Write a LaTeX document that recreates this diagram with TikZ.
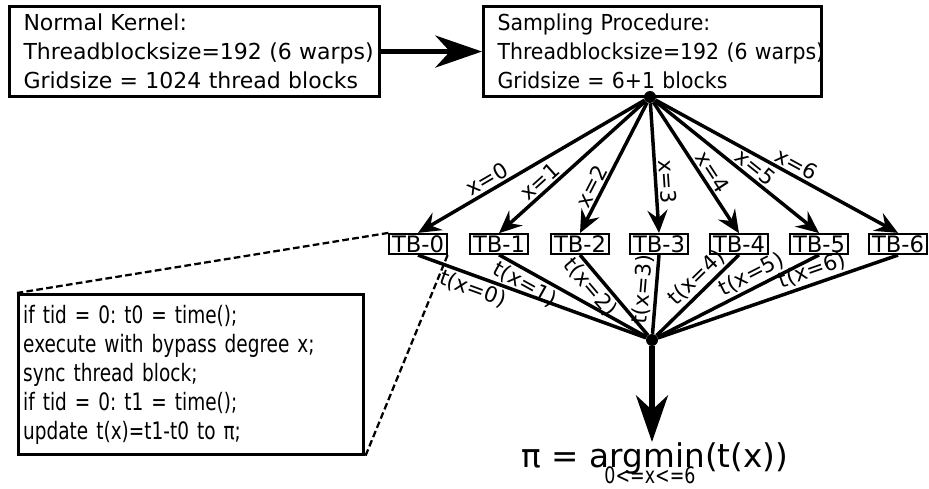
\documentclass[tikz,border=0pt]{standalone}
\usepackage{fontspec}
\setmainfont{DejaVu Sans}
\newfontfamily\narrowfont{DejaVu Sans}[FakeStretch=0.77]
\newfontfamily\squeezefont{DejaVu Sans}[FakeStretch=0.93]
\usetikzlibrary{arrows.meta,positioning}
\frenchspacing

\tikzset{
  infobox/.style={
    draw,
    line width=2.3pt,
    anchor=north west,
    align=left,
    inner xsep=10.5pt,
    minimum height=67.5pt,
    font=\fontsize{16.5pt}{21.75pt}\selectfont
  },
  tb/.style={
    draw,
    line width=1.4pt,
    inner xsep=2pt,
    inner ysep=1.2pt,
    font=\fontsize{17pt}{17pt}\selectfont
  },
  dotnode/.style={
    shape=circle,
    fill,
    inner sep=0pt,
    minimum size=9pt
  },
  codebox/.style={
    draw,
    line width=2.3pt,
    anchor=north west,
    align=left,
    inner xsep=3.5pt,
    text width=252pt,
    minimum height=120pt,
    font=\narrowfont\fontsize{18pt}{21.75pt}\selectfont
  },
}
\tikzset{
  fan/.style={
    line width=2.6pt,
    -{Stealth[length=17pt,width=15pt,inset=6pt]}
  },
  spoke/.style={
    line width=2.6pt
  },
  bigarrow/.style={
    line width=3.8pt,
    -{Stealth[length=35pt,width=24pt,inset=11pt]}
  },
  zoomline/.style={
    line width=1.7pt,
    dash pattern=on 5pt off 2.5pt
  },
  lbl/.style={
    font=\fontsize{16pt}{16pt}\selectfont,
    inner sep=1.5pt,
    sloped
  },
}

\begin{document}
\begin{tikzpicture}[x=0.75pt,y=-0.75pt]
        \useasboundingbox (0,0) rectangle (929,489);

        % the two kernels
        \node[infobox, text width=256.5pt] (normal) at (8,5)
            {Normal Kernel:\\Threadblocksize=192~(6~warps)\\Gridsize~=~1024~thread~blocks};
        \node[infobox, text width=232.5pt] (sampling) at (482,5)
            {\squeezefont Sampling Procedure:\\\squeezefont Threadblocksize=192~(6~warps)\\\squeezefont Gridsize~=~6+1~blocks};
        \draw[bigarrow] (normal.east) -- (sampling.west);

        % thread blocks
        \node[dotnode] (fork) at (650,97) {};
        \node[tb] (tb0) at (418,244) {TB-0};
        \node[tb] (tb1) at (499,244) {TB-1};
        \node[tb] (tb2) at (580,244) {TB-2};
        \node[tb] (tb3) at (659,244) {TB-3};
        \node[tb] (tb4) at (739,244) {TB-4};
        \node[tb] (tb5) at (819,244) {TB-5};
        \node[tb] (tb6) at (898,244) {TB-6};

        \draw[fan] (fork) -- (tb0.north) node[lbl, pos=.67, above] {x=0};
        \draw[fan] (fork) -- (tb1.north) node[lbl, pos=.67, above] {x=1};
        \draw[fan] (fork) -- (tb2.north) node[lbl, pos=.68, above] {x=2};
        \draw[fan] (fork) -- (tb3.north) node[lbl, pos=.61, above] {x=3};
        \draw[fan] (fork) -- (tb4.north) node[lbl, pos=.58, above] {x=4};
        \draw[fan] (fork) -- (tb5.north) node[lbl, pos=.57, above] {x=5};
        \draw[fan] (fork) -- (tb6.north) node[lbl, pos=.56, above] {x=6};

        % timings back to pi
        \node[dotnode] (join) at (652,340) {};
        \draw[spoke] (tb0.south) -- (join) node[lbl, pos=.26, below] {t(x=0)};
        \draw[spoke] (tb1.south) -- (join) node[lbl, pos=.22, below] {t(x=1)};
        \draw[spoke] (tb2.south) -- (join) node[lbl, pos=.30, below] {t(x=2)};
        \draw[spoke] (tb3.south) -- (join) node[lbl, pos=.45, above] {t(x=3)};
        \draw[spoke] (tb4.south) -- (join) node[lbl, pos=.40, above] {t(x=4)};
        \draw[spoke] (tb5.south) -- (join) node[lbl, pos=.38, above] {t(x=5)};
        \draw[spoke] (tb6.south) -- (join) node[lbl, pos=.34, above] {t(x=6)};

        \node[inner sep=0pt, anchor=north, font=\fontsize{24.5pt}{24.5pt}\selectfont] (result) at (655,442) {π = argmin(t(x))};
        \node[inner sep=0pt, font=\narrowfont\fontsize{17pt}{17pt}\selectfont] (range) at (650,475) {0<=x<=6};
        \draw[bigarrow] (join) -- (join |- result.north);

        % what one thread block does
        \node[codebox] (code) at (17,293)
            {if tid = 0: t0 = time();\\execute with bypass degree x;\\sync thread block;\\if tid = 0: t1 = time();\\update t(x)=t1-t0 to π;};
        \draw[zoomline] (tb0.north west) -- (code.north west);
        \draw[zoomline] (tb0.south east) -- (code.south east);
\end{tikzpicture}
\end{document}
